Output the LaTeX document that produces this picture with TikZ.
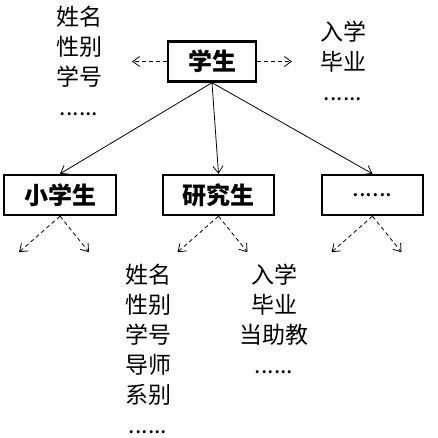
\documentclass[tikz,border=0pt]{standalone}
\usepackage{fontspec}
\usetikzlibrary{arrows.meta}
\newfontfamily\cjk{Noto Sans CJK SC}

\tikzset{
  kind/.style={draw,line width=2.4pt,inner sep=0pt,minimum height=40pt,
    font=\cjk\bfseries\fontsize{24}{24}\selectfont},
  attrs/.style={anchor=north,align=center,inner sep=0pt,
    font=\cjk\fontsize{23}{30}\selectfont},
  isa/.style={line width=0.8pt,-{Straight Barb[length=7pt,width=10pt]}},
  has/.style={isa,dash pattern=on 4pt off 3pt}
}

\begin{document}
\begin{tikzpicture}[x=1pt,y=-1pt]
	\useasboundingbox (0,0) rectangle (437,438);
	% top class and its attributes
	\node[kind,minimum width=88pt] (stu) at (212,61.5) {学生};
	\node[attrs] (stuattr) at (79,6) {姓名\\性别\\学号\\......};
	\node[attrs] (stuop) at (343,21) {入学\\毕业\\......};
	\coordinate (stuL) at (132,61.5);
	\coordinate (stuR) at (292,61.5);
	\draw[has] (stu.west) -- (stuL);
	\draw[has] (stu.east) -- (stuR);
	% sub classes
	\node[kind,minimum width=112pt] (pri) at (60,195) {小学生};
	\node[kind,minimum width=111pt] (grad) at (218.5,195) {研究生};
	\node[kind,minimum width=101pt] (other) at (372.5,195) {\mdseries......};
	\draw[isa] (stu.south) -- (pri.north);
	\draw[isa] (stu.south) -- (grad.north);
	\draw[isa] (stu.south) -- (other.north);
	\foreach \c in {pri,grad,other}{
		\coordinate (\c L) at ([shift={(-41,36)}]\c.south);
		\coordinate (\c R) at ([shift={(29,36)}]\c.south);
		\draw[has] (\c.south) -- (\c L);
		\draw[has] (\c.south) -- (\c R);
	}
	% attributes of grad
	\node[attrs] (gradattr) at (148,264) {姓名\\性别\\学号\\导师\\系别\\......};
	\node[attrs] (gradop) at (274,264) {入学\\毕业\\当助教\\......};
\end{tikzpicture}
\end{document}
